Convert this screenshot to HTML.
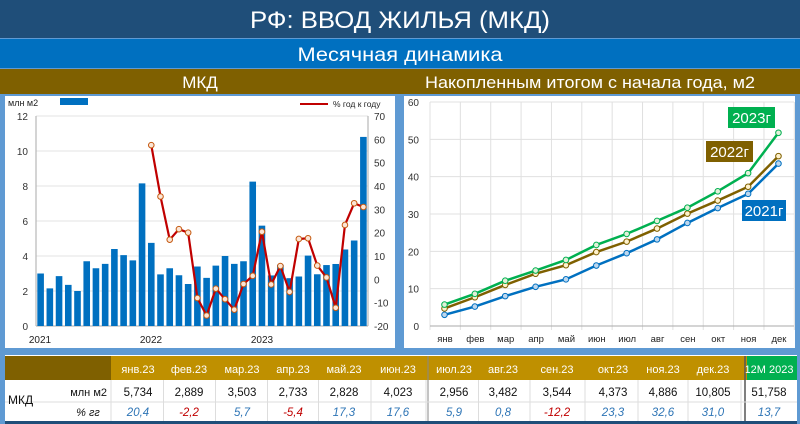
<!DOCTYPE html>
<html><head><meta charset="utf-8"><style>
body{margin:0;width:800px;height:424px;overflow:hidden;background:#5f9ad3;font-family:"Liberation Sans",sans-serif}
svg{display:block}
</style></head><body>
<svg id="s" width="800" height="424" xmlns="http://www.w3.org/2000/svg" font-family="Liberation Sans, sans-serif">
<rect x="0" y="0" width="800" height="424" fill="#5f9ad3"/>
<rect x="0" y="0" width="800" height="38" fill="#1f4e79"/>
<text x="400" y="28" text-anchor="middle" fill="#fff" font-size="24" textLength="300" lengthAdjust="spacingAndGlyphs">РФ: ВВОД ЖИЛЬЯ (МКД)</text>
<rect x="0" y="39" width="800" height="29" fill="#0070c0"/>
<text x="400" y="61" text-anchor="middle" fill="#fff" font-size="19" textLength="205" lengthAdjust="spacingAndGlyphs">Месячная динамика</text>
<rect x="0" y="69" width="800" height="25" fill="#7f6000"/>
<text x="200" y="88" text-anchor="middle" fill="#fff" font-size="17">МКД</text>
<text x="590" y="88" text-anchor="middle" fill="#fff" font-size="17" textLength="330" lengthAdjust="spacingAndGlyphs">Накопленным итогом с начала года, м2</text>
<rect x="5" y="96" width="390" height="252" fill="#fff"/>
<rect x="404" y="96" width="391" height="252" fill="#fff"/>
<g id="L"></g><g id="R"></g>
<g id="T"></g>
</svg>
<script>
const NS="http://www.w3.org/2000/svg";
function el(p,t,a,txt){const e=document.createElementNS(NS,t);for(const k in a)e.setAttribute(k,a[k]);if(txt!==undefined)e.textContent=txt;p.appendChild(e);return e;}
const L=document.getElementById('L');
// left chart
for(let v=0;v<=12;v+=2){const y=326-v*17.5;el(L,'line',{x1:36,x2:368,y1:y,y2:y,stroke:'#e3e3e3','stroke-width':1});
el(L,'text',{x:28,y:y+4,'text-anchor':'end','font-size':10,fill:'#333'},v);}
for(let p=-20;p<=70;p+=10){const y=326-(p+20)*210/90;el(L,'text',{x:374,y:y+4,'font-size':10,fill:'#333'},p);}
el(L,'line',{x1:36,x2:36,y1:116,y2:326,stroke:'#aaa'});
el(L,'line',{x1:368,x2:368,y1:116,y2:326,stroke:'#aaa'});
el(L,'line',{x1:36,x2:368,y1:326,y2:326,stroke:'#aaa'});
const bars=[3.0,2.15,2.85,2.35,2.0,3.7,3.3,3.55,4.4,4.05,3.75,8.15,4.75,2.95,3.3,2.9,2.4,3.4,2.75,3.45,4.0,3.55,3.7,8.25,5.734,2.889,3.503,2.733,2.828,4.023,2.956,3.482,3.544,4.373,4.886,10.805];
const bw=332/36;
bars.forEach((v,i)=>{const cx=36+bw*(i+.5);el(L,'rect',{x:cx-3.3,y:326-v*17.5,width:6.6,height:v*17.5,fill:'#0070c0'});});
const pct=[57.5,35.5,17,21.5,20,-8,-15.5,-4,-8.5,-13,-2,1.5,20.4,-2.2,5.7,-5.4,17.3,17.6,5.9,0.8,-12.2,23.3,32.6,31.0];
const pts=pct.map((p,i)=>[36+bw*(i+12.5),326-(p+20)*210/90]);
el(L,'polyline',{points:pts.map(p=>p.join(',')).join(' '),fill:'none',stroke:'#c00000','stroke-width':2.2});
pts.forEach(p=>el(L,'circle',{cx:p[0],cy:p[1],r:2.8,fill:'#fbe5d6',stroke:'#c55a11','stroke-width':1}));
[['2021',40],['2022',151],['2023',262]].forEach(a=>el(L,'text',{x:a[1],y:343,'text-anchor':'middle','font-size':10,fill:'#222'},a[0]));
el(L,'text',{x:8,y:106,'font-size':9,fill:'#222'},'млн м2');
el(L,'rect',{x:60,y:98,width:28,height:7,fill:'#0070c0'});
el(L,'line',{x1:300,x2:328,y1:104,y2:104,stroke:'#c00000','stroke-width':2});
el(L,'text',{x:333,y:107,'font-size':8.5,fill:'#222'},'% год к году');
// right chart
const R=document.getElementById('R');
for(let v=0;v<=60;v+=10){const y=326-v*224/60;el(R,'line',{x1:430,x2:794,y1:y,y2:y,stroke:'#e0e0e0'});
el(R,'text',{x:419,y:y+4,'text-anchor':'end','font-size':10,fill:'#333'},v);}
for(let k=0;k<=12;k++){const x=430+k*30.36;el(R,'line',{x1:x,x2:x,y1:102,y2:330,stroke:'#e0e0e0'});}
el(R,'line',{x1:430,x2:794,y1:326,y2:326,stroke:'#aaa'});
const mon=['янв','фев','мар','апр','май','июн','июл','авг','сен','окт','ноя','дек'];
mon.forEach((m,i)=>el(R,'text',{x:445+i*30.36,y:342,'text-anchor':'middle','font-size':9.5,fill:'#222'},m));
const s21=[3,5.2,8,10.5,12.5,16.2,19.5,23.2,27.6,31.6,35.4,43.5];
const s22=[4.7,7.7,11,14,16.3,19.8,22.6,26.1,30.1,33.6,37.3,45.5];
const s23=[5.73,8.62,12.13,14.86,17.69,21.71,24.67,28.15,31.69,36.07,40.95,51.76];
[[s21,'#0070c0','#bdd7ee'],[s22,'#7f6000','#fff2cc'],[s23,'#00b050','#e2f0d9']].forEach(([s,c,f])=>{
const p=s.map((v,i)=>[444.5+i*30.36,326-v*224/60]);
el(R,'polyline',{points:p.map(q=>q.join(',')).join(' '),fill:'none',stroke:c,'stroke-width':2.5});
p.forEach(q=>el(R,'circle',{cx:q[0],cy:q[1],r:2.8,fill:f,stroke:c,'stroke-width':1}));});
[['2023г','#00b050',728,107,47],['2022г','#7f6000',706,141,47],['2021г','#0070c0',742,200,44]].forEach(([t,c,x,y,w])=>{
el(R,'rect',{x:x,y:y,width:w,height:21,fill:c});
el(R,'text',{x:x+w/2,y:y+16,'text-anchor':'middle','font-size':15,fill:'#fff'},t);});
// table
const T=document.getElementById('T');
el(T,'rect',{x:5,y:355,width:792,height:68,fill:'#fff'});
el(T,'rect',{x:5,y:356,width:106,height:24,fill:'#7f6000'});
el(T,'rect',{x:111,y:356,width:636,height:24,fill:'#bf9000'});
el(T,'rect',{x:747,y:356,width:50,height:24,fill:'#00b050'});
const cx=[138,189,242,293,344,398,454,503,557,613,663,713,769];
const hd=['янв.23','фев.23','мар.23','апр.23','май.23','июн.23','июл.23','авг.23','сен.23','окт.23','ноя.23','дек.23','12М 2023'];
const v1=['5,734','2,889','3,503','2,733','2,828','4,023','2,956','3,482','3,544','4,373','4,886','10,805','51,758'];
const v2=['20,4','-2,2','5,7','-5,4','17,3','17,6','5,9','0,8','-12,2','23,3','32,6','31,0','13,7'];
hd.forEach((h,i)=>{el(T,'text',{x:cx[i],y:373,'text-anchor':'middle','font-size':11,fill:'#fff'},h);
el(T,'text',{x:cx[i],y:396,'text-anchor':'middle','font-size':11.5,fill:'#111'},v1[i]);
el(T,'text',{x:cx[i],y:416,'text-anchor':'middle','font-size':11.5,'font-style':'italic',fill:v2[i][0]=='-'?'#c00000':'#2e75b6'},v2[i]);});
for(let i=0;i<12;i++){const x=(cx[i]+cx[i+1])/2;el(T,'line',{x1:x,x2:x,y1:380,y2:421,stroke:'#ddd'});}
el(T,'line',{x1:428,x2:428,y1:356,y2:421,stroke:'#888'});
el(T,'line',{x1:745,x2:745,y1:356,y2:421,stroke:'#555','stroke-width':1.5});
el(T,'line',{x1:111,x2:111,y1:380,y2:421,stroke:'#ddd'});
el(T,'line',{x1:5,x2:797,y1:402,y2:402,stroke:'#ddd'});
el(T,'text',{x:8,y:404,'font-size':12,fill:'#111'},'МКД');
el(T,'text',{x:107,y:396,'text-anchor':'end','font-size':11,fill:'#111'},'млн м2');
el(T,'text',{x:88,y:416,'text-anchor':'middle','font-size':11,'font-style':'italic',fill:'#111'},'% гг');
el(T,'rect',{x:5,y:421,width:792,height:3,fill:'#1f4e79'});
</script>
</body></html>
